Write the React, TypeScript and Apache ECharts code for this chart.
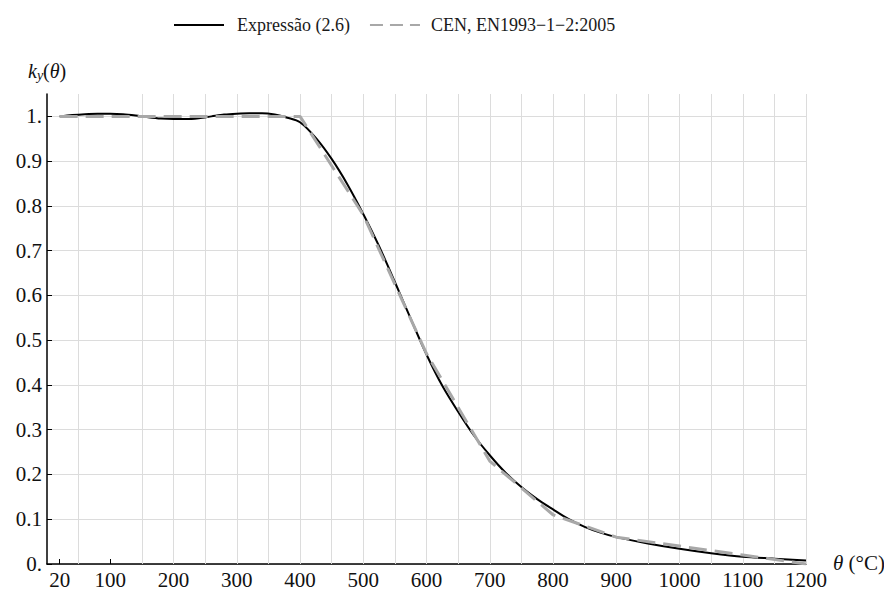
import React, { useEffect, useRef } from "react";
import * as echarts from "echarts";

const xTicks = [20, 100, 200, 300, 400, 500, 600, 700, 800, 900, 1000, 1100, 1200];
const yTicks = [0, 0.1, 0.2, 0.3, 0.4, 0.5, 0.6, 0.7, 0.8, 0.9, 1];
const gridX = [50, 150, 200, 250, 300, 350, 400, 450, 500, 550, 600, 650, 700, 750, 800, 850, 900, 950, 1000, 1050, 1100, 1150, 1200];

const exprTheta = [20, 40, 60, 80, 100, 120, 140, 160, 180, 200, 220, 240, 260, 280, 300, 320, 340, 360, 380, 400, 425, 450, 475, 500, 525, 550, 575, 600, 625, 650, 675, 700, 725, 750, 775, 800, 825, 850, 875, 900, 950, 1000, 1050, 1100, 1150, 1200];
const exprK = [1.0, 1.003, 1.005, 1.006, 1.006, 1.005, 1.002, 0.998, 0.995, 0.994, 0.994, 0.996, 1.0, 1.004, 1.006, 1.007, 1.007, 1.004, 0.997, 0.987, 0.952, 0.905, 0.848, 0.782, 0.71, 0.63, 0.548, 0.468, 0.398, 0.34, 0.287, 0.243, 0.204, 0.172, 0.145, 0.122, 0.1, 0.083, 0.07, 0.06, 0.046, 0.034, 0.024, 0.016, 0.012, 0.008];

const enTheta = [20, 100, 200, 300, 400, 500, 600, 700, 800, 900, 1000, 1100, 1200];
const enK = [1, 1, 1, 1, 1, 0.78, 0.47, 0.23, 0.11, 0.06, 0.04, 0.02, 0];

const FONT = "Liberation Serif";
const tickRich = { t: { fontFamily: FONT, fontSize: 21, color: "#111" } };

const yLabel = (v: number) => {
  const tenths = Math.round(v * 20);
  if (tenths % 2 !== 0) return "";
  if (tenths === 0) return "0.";
  if (tenths === 20) return "1.";
  return (tenths / 20).toFixed(1);
};

export default function App() {
  const ref = useRef<HTMLDivElement>(null);
  useEffect(() => {
    if (!ref.current) return;
    const chart = echarts.init(ref.current, null, { renderer: "svg" });
    chart.setOption({
      animation: false,
      backgroundColor: "#ffffff",
      textStyle: { fontFamily: FONT },
      grid: { left: 39, right: 86, top: 86, bottom: 28, containLabel: false },
      legend: {
        top: 8,
        left: 165,
        padding: 0,
        itemWidth: 50,
        itemHeight: 14,
        itemGap: 19,
        itemStyle: { opacity: 0 },
        textStyle: { fontFamily: FONT, fontSize: 18, color: "#1a1a1a", padding: [0, 0, 0, 8] },
        data: [
          { name: "Expressão (2.6)" },
          {
            name: "CEN, EN1993−1−2:2005",
            lineStyle: { type: [13, 7] },
            textStyle: { fontFamily: FONT, fontSize: 18, color: "#1a1a1a", padding: [0, 0, 0, 6] },
          },
        ],
      },
      xAxis: {
        type: "value",
        min: 0,
        max: 1200,
        interval: 50,
        axisLine: { show: true, lineStyle: { color: "#000", width: 1.5 } },
        axisTick: { show: true, inside: true, length: 5, customValues: xTicks, lineStyle: { color: "#000", width: 1 } },
        axisLabel: {
          customValues: xTicks,
          fontFamily: FONT,
          fontSize: 21,
          color: "#111",
          margin: 5,
          formatter: (v: number) => "{t|" + String(Math.round(v)) + "}",
          rich: tickRich,
        },
        splitLine: { show: false },
      },
      yAxis: {
        type: "value",
        min: 0,
        max: 1.05,
        interval: 0.05,
        axisLine: { show: true, lineStyle: { color: "#000", width: 1.5 } },
        axisTick: { show: true, inside: true, length: 5, customValues: yTicks, lineStyle: { color: "#000", width: 1 } },
        axisLabel: {
          fontFamily: FONT,
          fontSize: 21,
          color: "#111",
          margin: 5,
          formatter: yLabel,
        },
        splitLine: { show: true, lineStyle: { color: "#dcdcdc", width: 1 } },
      },
      graphic: [
        {
          type: "text",
          left: 20,
          top: 53,
          style: {
            text: "{i|k}{s|y}{n|(}{i|θ}{n|)}",
            rich: {
              i: { fontFamily: FONT, fontStyle: "italic", fontSize: 20, fill: "#111" },
              s: { fontFamily: FONT, fontStyle: "italic", fontSize: 14, fill: "#111", verticalAlign: "bottom", padding: [8, 0, 0, 0] },
              n: { fontFamily: FONT, fontSize: 20, fill: "#111" },
            },
          },
        },
        {
          type: "text",
          left: 825,
          top: 544,
          style: {
            text: "{i|θ}{n| (°C)}",
            rich: {
              i: { fontFamily: FONT, fontStyle: "italic", fontSize: 21, fill: "#111" },
              n: { fontFamily: FONT, fontSize: 21, fill: "#111" },
            },
          },
        },
      ],
      series: [
        {
          name: "Expressão (2.6)",
          type: "line",
          symbol: "none",
          smooth: 0.3,
          data: exprTheta.map((t, i) => [t, exprK[i]]),
          lineStyle: { color: "#000", width: 2 },
          itemStyle: { color: "#000" },
          z: 2,
          markLine: {
            silent: true,
            z: 1,
            symbol: ["none", "none"],
            label: { show: false },
            lineStyle: { color: "#dcdcdc", width: 1, type: "solid" },
            data: gridX.map((x) => ({ xAxis: x })),
          },
        },
        {
          name: "CEN, EN1993−1−2:2005",
          type: "line",
          symbol: "none",
          data: enTheta.map((t, i) => [t, enK[i]]),
          lineStyle: { color: "#a8a8a8", width: 3, type: [18, 8] },
          itemStyle: { color: "#a8a8a8" },
          z: 3,
        },
      ],
    });
    return () => chart.dispose();
  }, []);
  return <div ref={ref} style={{ width: 884, height: 584 }} />;
}
